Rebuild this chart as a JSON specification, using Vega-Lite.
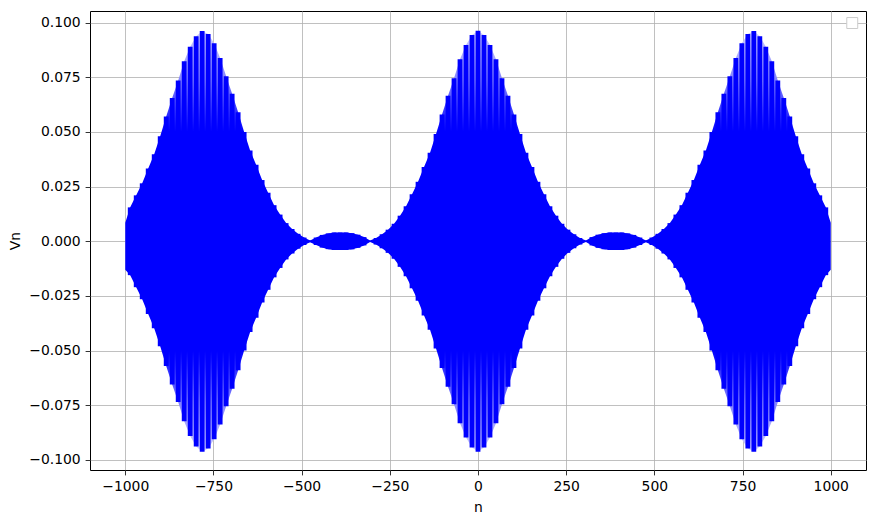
{
  "$schema": "https://vega.github.io/schema/vega-lite/v6.json",
  "width": 776,
  "height": 459,
  "autosize": {"type": "none"},
  "padding": {"left": 90, "top": 11, "right": 9, "bottom": 55},
  "background": "white",
  "config": {
    "view": {"stroke": "#000000", "strokeWidth": 1},
    "axis": {
      "domain": false, "grid": true, "gridColor": "#b0b0b0", "gridWidth": 0.8, "gridOpacity": 1,
      "tickColor": "#000000", "tickWidth": 0.8, "tickSize": 4.9,
      "labelFont": "DejaVu Sans", "labelFontSize": 13.9, "labelColor": "#000000", "labelPadding": 4.9,
      "titleFont": "DejaVu Sans", "titleFontSize": 13.9, "titleFontWeight": "normal", "titleColor": "#000000"
    }
  },
  "data": {"values": [
    {"n": -1000, "hi": 0.0085, "lo": -0.013, "e": 1},
    {"n": -986, "hi": 0.0155, "lo": -0.0155},
    {"n": -969, "hi": 0.021, "lo": -0.021},
    {"n": -952, "hi": 0.0265, "lo": -0.0265},
    {"n": -935, "hi": 0.0333, "lo": -0.0333},
    {"n": -918, "hi": 0.0398, "lo": -0.0398},
    {"n": -901, "hi": 0.048, "lo": -0.048},
    {"n": -884, "hi": 0.057, "lo": -0.057},
    {"n": -867, "hi": 0.0655, "lo": -0.0655},
    {"n": -850, "hi": 0.0735, "lo": -0.0735},
    {"n": -833, "hi": 0.0823, "lo": -0.0823},
    {"n": -816, "hi": 0.089, "lo": -0.089},
    {"n": -799, "hi": 0.0938, "lo": -0.0938},
    {"n": -782, "hi": 0.0962, "lo": -0.0962},
    {"n": -765, "hi": 0.0948, "lo": -0.0948},
    {"n": -748, "hi": 0.0905, "lo": -0.0905},
    {"n": -731, "hi": 0.0838, "lo": -0.0838},
    {"n": -714, "hi": 0.0755, "lo": -0.0755},
    {"n": -697, "hi": 0.0675, "lo": -0.0675},
    {"n": -680, "hi": 0.059, "lo": -0.059},
    {"n": -663, "hi": 0.05, "lo": -0.05},
    {"n": -646, "hi": 0.0415, "lo": -0.0415},
    {"n": -629, "hi": 0.035, "lo": -0.035},
    {"n": -612, "hi": 0.028, "lo": -0.028},
    {"n": -595, "hi": 0.0222, "lo": -0.0222},
    {"n": -578, "hi": 0.0165, "lo": -0.0165},
    {"n": -561, "hi": 0.0122, "lo": -0.0122},
    {"n": -544, "hi": 0.0083, "lo": -0.0083},
    {"n": -527, "hi": 0.0056, "lo": -0.0056},
    {"n": -510, "hi": 0.0034, "lo": -0.0034},
    {"n": -493, "hi": 0.0017, "lo": -0.0017},
    {"n": -476, "hi": 0.0004, "lo": -0.0004},
    {"n": -459, "hi": 0.0017, "lo": -0.0017},
    {"n": -442, "hi": 0.0029, "lo": -0.0029},
    {"n": -425, "hi": 0.0036, "lo": -0.0036},
    {"n": -408, "hi": 0.004, "lo": -0.004},
    {"n": -391, "hi": 0.004, "lo": -0.004},
    {"n": -374, "hi": 0.004, "lo": -0.004},
    {"n": -357, "hi": 0.0037, "lo": -0.0037},
    {"n": -340, "hi": 0.003, "lo": -0.003},
    {"n": -323, "hi": 0.0019, "lo": -0.0019},
    {"n": -306, "hi": 0.0003, "lo": -0.0003},
    {"n": -289, "hi": 0.0015, "lo": -0.0015},
    {"n": -272, "hi": 0.0032, "lo": -0.0032},
    {"n": -255, "hi": 0.0053, "lo": -0.0053},
    {"n": -238, "hi": 0.008, "lo": -0.008},
    {"n": -221, "hi": 0.0117, "lo": -0.0117},
    {"n": -204, "hi": 0.016, "lo": -0.016},
    {"n": -187, "hi": 0.0215, "lo": -0.0215},
    {"n": -170, "hi": 0.0272, "lo": -0.0272},
    {"n": -153, "hi": 0.034, "lo": -0.034},
    {"n": -136, "hi": 0.0405, "lo": -0.0405},
    {"n": -119, "hi": 0.049, "lo": -0.049},
    {"n": -102, "hi": 0.058, "lo": -0.058},
    {"n": -85, "hi": 0.0665, "lo": -0.0665},
    {"n": -68, "hi": 0.0745, "lo": -0.0745},
    {"n": -51, "hi": 0.0832, "lo": -0.0832},
    {"n": -34, "hi": 0.0897, "lo": -0.0897},
    {"n": -17, "hi": 0.0943, "lo": -0.0943},
    {"n": 0, "hi": 0.0963, "lo": -0.0963},
    {"n": 17, "hi": 0.0943, "lo": -0.0943},
    {"n": 34, "hi": 0.0897, "lo": -0.0897},
    {"n": 51, "hi": 0.0832, "lo": -0.0832},
    {"n": 68, "hi": 0.0745, "lo": -0.0745},
    {"n": 85, "hi": 0.0665, "lo": -0.0665},
    {"n": 102, "hi": 0.058, "lo": -0.058},
    {"n": 119, "hi": 0.049, "lo": -0.049},
    {"n": 136, "hi": 0.0405, "lo": -0.0405},
    {"n": 153, "hi": 0.034, "lo": -0.034},
    {"n": 170, "hi": 0.0272, "lo": -0.0272},
    {"n": 187, "hi": 0.0215, "lo": -0.0215},
    {"n": 204, "hi": 0.016, "lo": -0.016},
    {"n": 221, "hi": 0.0117, "lo": -0.0117},
    {"n": 238, "hi": 0.008, "lo": -0.008},
    {"n": 255, "hi": 0.0053, "lo": -0.0053},
    {"n": 272, "hi": 0.0032, "lo": -0.0032},
    {"n": 289, "hi": 0.0015, "lo": -0.0015},
    {"n": 306, "hi": 0.0003, "lo": -0.0003},
    {"n": 323, "hi": 0.0019, "lo": -0.0019},
    {"n": 340, "hi": 0.003, "lo": -0.003},
    {"n": 357, "hi": 0.0037, "lo": -0.0037},
    {"n": 374, "hi": 0.004, "lo": -0.004},
    {"n": 391, "hi": 0.004, "lo": -0.004},
    {"n": 408, "hi": 0.004, "lo": -0.004},
    {"n": 425, "hi": 0.0036, "lo": -0.0036},
    {"n": 442, "hi": 0.0029, "lo": -0.0029},
    {"n": 459, "hi": 0.0017, "lo": -0.0017},
    {"n": 476, "hi": 0.0004, "lo": -0.0004},
    {"n": 493, "hi": 0.0017, "lo": -0.0017},
    {"n": 510, "hi": 0.0034, "lo": -0.0034},
    {"n": 527, "hi": 0.0056, "lo": -0.0056},
    {"n": 544, "hi": 0.0083, "lo": -0.0083},
    {"n": 561, "hi": 0.0122, "lo": -0.0122},
    {"n": 578, "hi": 0.0165, "lo": -0.0165},
    {"n": 595, "hi": 0.0222, "lo": -0.0222},
    {"n": 612, "hi": 0.028, "lo": -0.028},
    {"n": 629, "hi": 0.035, "lo": -0.035},
    {"n": 646, "hi": 0.0415, "lo": -0.0415},
    {"n": 663, "hi": 0.05, "lo": -0.05},
    {"n": 680, "hi": 0.059, "lo": -0.059},
    {"n": 697, "hi": 0.0675, "lo": -0.0675},
    {"n": 714, "hi": 0.0755, "lo": -0.0755},
    {"n": 731, "hi": 0.0838, "lo": -0.0838},
    {"n": 748, "hi": 0.0905, "lo": -0.0905},
    {"n": 765, "hi": 0.0948, "lo": -0.0948},
    {"n": 782, "hi": 0.0962, "lo": -0.0962},
    {"n": 799, "hi": 0.0938, "lo": -0.0938},
    {"n": 816, "hi": 0.089, "lo": -0.089},
    {"n": 833, "hi": 0.0823, "lo": -0.0823},
    {"n": 850, "hi": 0.0735, "lo": -0.0735},
    {"n": 867, "hi": 0.0655, "lo": -0.0655},
    {"n": 884, "hi": 0.057, "lo": -0.057},
    {"n": 901, "hi": 0.048, "lo": -0.048},
    {"n": 918, "hi": 0.0398, "lo": -0.0398},
    {"n": 935, "hi": 0.0333, "lo": -0.0333},
    {"n": 952, "hi": 0.0265, "lo": -0.0265},
    {"n": 969, "hi": 0.021, "lo": -0.021},
    {"n": 986, "hi": 0.0155, "lo": -0.0155},
    {"n": 1000, "hi": 0.0085, "lo": -0.013, "e": 1}
  ]},
  "layer": [
    {
      "mark": {
        "type": "area",
        "interpolate": "linear",
        "fill": {"gradient": "linear", "x1": 0, "y1": 0, "x2": 0, "y2": 1, "stops": [
          {"offset": 0, "color": "#d0d0ff"},
          {"offset": 0.12, "color": "#8080ff"},
          {"offset": 0.24, "color": "#0000ff"},
          {"offset": 0.76, "color": "#0000ff"},
          {"offset": 0.88, "color": "#8080ff"},
          {"offset": 1, "color": "#d0d0ff"}
        ]}
      },
      "encoding": {
        "x": {"field": "n", "type": "quantitative",
          "scale": {"domain": [-1100, 1100], "nice": false, "zero": false, "padding": 0},
          "axis": {"values": [-1000, -750, -500, -250, 0, 250, 500, 750, 1000], "format": "d", "title": "n", "titlePadding": 7, "labelFlush": false}},
        "y": {"field": "hi", "type": "quantitative",
          "scale": {"domain": [-0.1046, 0.1053], "nice": false, "zero": false, "padding": 0},
          "axis": {"values": [-0.1, -0.075, -0.05, -0.025, 0, 0.025, 0.05, 0.075, 0.1], "format": ".3f", "title": "Vn", "titlePadding": 6}},
        "y2": {"field": "lo"}
      }
    },
    {
      "transform": [{"filter": "datum.e != 1"}],
      "mark": {"type": "bar", "size": 4.8, "color": "#0000ff"},
      "encoding": {
        "x": {"field": "n", "type": "quantitative"},
        "y": {"field": "hi", "type": "quantitative"},
        "y2": {"field": "lo"}
      }
    },
    {
      "data": {"values": [{"lx": 1061, "ly": 0.0998}]},
      "mark": {"type": "point", "shape": "square", "size": 120, "filled": true, "fill": "#ffffff", "stroke": "#cccccc", "strokeWidth": 1, "opacity": 1},
      "encoding": {
        "x": {"field": "lx", "type": "quantitative"},
        "y": {"field": "ly", "type": "quantitative"}
      }
    }
  ]
}
